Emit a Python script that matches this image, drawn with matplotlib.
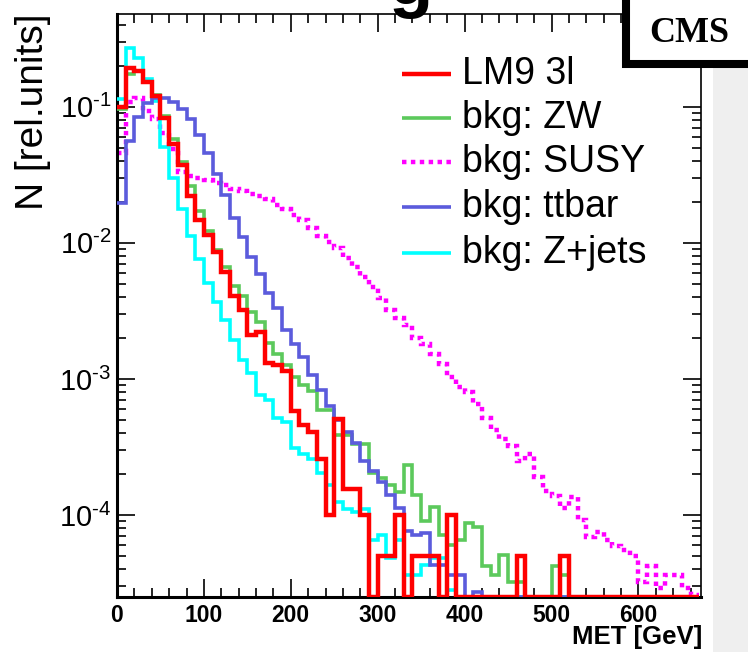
import numpy as np
import matplotlib
matplotlib.use("Agg")
import matplotlib.pyplot as plt
from matplotlib.patches import Rectangle
from matplotlib.lines import Line2D
from matplotlib.ticker import MultipleLocator, LogLocator, NullFormatter, FixedLocator, FixedFormatter

plt.rcParams["font.family"] = ["Liberation Sans", "DejaVu Sans"]
plt.rcParams["mathtext.fontset"] = "custom"
plt.rcParams["mathtext.rm"] = "Liberation Sans"
plt.rcParams["mathtext.it"] = "Liberation Sans:italic"
plt.rcParams["mathtext.bf"] = "Liberation Sans:bold"

# MET histograms, 10 GeV bins from 0 to 670 GeV (normalised)
met_edges = np.arange(0, 680, 10)

lm9_3l = [0.100, 0.194, 0.183, 0.153, 0.120, 0.082, 0.053, 0.0376, 0.022, 0.0148,
          0.0115, 0.0086, 0.0061, 0.0041, 0.0032, 0.0021, 0.0022, 0.00132, 0.00127, 0.00114,
          0.00058, 0.00046, 0.00041, 0.00026, 0.000100, 0.00051, 0.000155, 0.000155, 0.000100, 0,
          5.0e-5, 5.0e-5, 1.0e-4, 0, 5e-5, 5e-5, 5e-5, 0, 1e-4, 0,
          0, 0, 0, 0, 0, 0, 5e-5, 0, 0, 0,
          0, 5e-5, 0, 0, 0, 0, 0, 0, 0, 0,
          0, 0, 0, 0, 0, 0, 0]

bkg_zw = [0.0967, 0.173, 0.183, 0.152, 0.121, 0.085, 0.058, 0.039, 0.026, 0.0172,
          0.0122, 0.0089, 0.0066, 0.0048, 0.0041, 0.0031, 0.0026, 0.00185, 0.00153, 0.00126,
          0.00103, 0.00091, 0.00081, 0.00059, 0.00059, 0.00039, 0.00039, 0.00033, 0.00033, 0.000204,
          0.000187, 0.000166, 0.000148, 0.000234, 0.00014, 9.1e-5, 0.000114, 7.1e-5, 6.0e-5, 6.6e-5,
          8.7e-5, 8.2e-5, 4.2e-5, 3.6e-5, 5.1e-5, 3.2e-5, 3.2e-5, 0, 0, 0,
          4.2e-5, 3.6e-5, 0, 0, 0, 0, 0, 0, 0, 0,
          0, 0, 0, 0, 0, 0, 0]

bkg_susy = [0.046, 0.108, 0.116, 0.093, 0.081, 0.064, 0.049, 0.0334, 0.031, 0.030,
            0.029, 0.0277, 0.0264, 0.025, 0.024, 0.023, 0.022, 0.0211, 0.019, 0.0176,
            0.0159, 0.0146, 0.0128, 0.0112, 0.0101, 0.0091, 0.0078, 0.0066, 0.0056, 0.0047,
            0.0039, 0.0032, 0.0028, 0.0025, 0.0020, 0.0018, 0.00153, 0.00128, 0.00103, 0.00087,
            0.0008, 0.00065, 0.00052, 0.00042, 0.00036, 0.00032, 0.00025, 0.00028, 0.00019, 0.00015,
            0.000137, 0.000113, 0.000135, 9.2e-5, 6.9e-5, 7.5e-5, 6.6e-5, 5.9e-5, 5.5e-5, 5.0e-5,
            3.2e-5, 4.2e-5, 2.9e-5, 3.6e-5, 3.6e-5, 2.9e-5, 2.6e-5]

bkg_ttbar = [0.0197, 0.0558, 0.0844, 0.106, 0.116, 0.115, 0.108, 0.0955, 0.081, 0.0615,
             0.046, 0.032, 0.0224, 0.0152, 0.011, 0.0079, 0.0059, 0.0043, 0.0033, 0.0023,
             0.0018, 0.00146, 0.00107, 0.00083, 0.00063, 0.0005, 0.00041, 0.00034, 0.00025, 0.00021,
             0.000176, 0.00014, 0.000113, 7.7e-5, 7.1e-5, 7.4e-5, 4.3e-5, 4.3e-5, 3.6e-5, 3.6e-5,
             0, 2.7e-5, 0, 0, 0, 0, 0, 0, 0, 0,
             0, 0, 0, 0, 0, 0, 0, 0, 0, 0,
             0, 0, 0, 0, 0, 0, 0]

bkg_zjets = [0.113, 0.272, 0.229, 0.159, 0.110, 0.051, 0.030, 0.0178, 0.0113, 0.0076,
             0.0051, 0.0037, 0.0027, 0.00194, 0.00138, 0.0011, 0.00076, 0.0007, 0.00052, 0.00048,
             0.00031, 0.00028, 0.00026, 0.000205, 0.000167, 0.000125, 0.00011, 0.000105, 0.00011, 6.6e-5,
             7.1e-5, 4.8e-5, 6.6e-5, 3.6e-5, 3.6e-5, 4.3e-5, 4.8e-5, 4.8e-5, 2.8e-5, 0,
             0, 0, 0, 0, 0, 0, 0, 0, 0, 0,
             0, 0, 0, 0, 0, 0, 0, 0, 0, 0,
             0, 0, 0, 0, 0, 0, 0]

labels = ["LM9 3l", "bkg: ZW", "bkg: SUSY", "bkg: ttbar", "bkg: Z+jets"]
x_ticks = [0, 100, 200, 300, 400, 500, 600]
y_ticks = [1e-4, 1e-3, 1e-2, 1e-1]
y_ticklabels = [r"$\mathregular{10^{\text{-}4}}$", r"$\mathregular{10^{\text{-}3}}$",
                r"$\mathregular{10^{\text{-}2}}$", r"$\mathregular{10^{\text{-}1}}$"]

XMAX = 672
YMIN, YMAX = 2.5e-5, 0.48

W, H = 748, 652
fig = plt.figure(figsize=(W / 100, H / 100), dpi=100)
fig.patch.set_facecolor("white")


def fx(x):
    return x / W


def fy(y):
    return 1 - y / H


# light grey canvas strip on the right
fig.add_artist(Rectangle((fx(713), 0), fx(W) - fx(713) + 0.01, 1.01,
                         transform=fig.transFigure, facecolor="#efefef",
                         edgecolor="none", zorder=0))

# large page title running off the top edge
fig.text(fx(411), fy(4), "g", ha="center", va="baseline", fontsize=52,
         fontweight="bold")

ax = fig.add_axes([fx(117), fy(597), (701 - 117) / W, (597 - 14) / H])
ax.set_yscale("log")
ax.set_xlim(0, XMAX)
ax.set_ylim(YMIN, YMAX)

DOT = (0, (1.0, 1.0))
series = [
    (bkg_susy, "#ff00ff", 3.2, DOT, 2),
    (bkg_zjets, "#00ffff", 2.6, "-", 3),
    (bkg_zw, "#5cc95c", 2.6, "-", 4),
    (bkg_ttbar, "#5b5bdc", 2.6, "-", 5),
    (lm9_3l, "#ff0000", 3.2, "-", 6),
]
for vals, col, lw, ls, z in series:
    v = np.clip(np.asarray(vals, dtype=float), YMIN, None)
    st = ax.stairs(v, met_edges, baseline=None, color=col, lw=lw, linestyle=ls, zorder=z)
    st.set_capstyle("butt")

# axes styling
ax.xaxis.set_major_locator(FixedLocator(x_ticks))
ax.xaxis.set_minor_locator(MultipleLocator(20))
ax.set_xticklabels([str(t) for t in x_ticks], fontsize=16.5, fontweight="bold")
ax.yaxis.set_major_locator(FixedLocator(y_ticks))
ax.yaxis.set_major_formatter(FixedFormatter(y_ticklabels))
ax.yaxis.set_minor_locator(LogLocator(base=10, subs=np.arange(2, 10), numticks=20))
ax.yaxis.set_minor_formatter(NullFormatter())
ax.tick_params(which="both", direction="in", top=True, right=True, color="black")
ax.tick_params(which="major", length=13, width=1.2)
ax.tick_params(which="minor", length=6.5, width=1.2)
ax.tick_params(axis="x", which="major", pad=5)
ax.tick_params(axis="y", which="major", labelsize=21, pad=4)
for side in ("left", "bottom"):
    ax.spines[side].set_linewidth(2.2)
for side in ("top", "right"):
    ax.spines[side].set_linewidth(1.2)

fig.text(fx(33), fy(13), "N [rel.units]", rotation=90, ha="center", va="top", fontsize=28)
fig.text(fx(702), fy(637), "MET [GeV]", ha="right", va="center", fontsize=18.5, fontweight="bold")

# legend
colors = ["#ff0000", "#5cc95c", "#ff00ff", "#5b5bdc", "#00ffff"]
styles = ["-", "-", DOT, "-", "-"]
widths = [3.2, 2.6, 3.2, 2.6, 2.6]
rows = [74, 118, 162, 207, 253]
for lab, col, ls, lw, yy in zip(labels, colors, styles, widths, rows):
    fig.add_artist(Line2D([fx(402), fx(451)], [fy(yy), fy(yy)], transform=fig.transFigure,
                          color=col, lw=lw, linestyle=ls, solid_capstyle="butt",
                          dash_capstyle="butt"))
    fig.text(fx(462), fy(yy), lab, ha="left", va="center", fontsize=27)

# CMS label box
fig.add_artist(Rectangle((fx(626), fy(64)), 0.3, 0.3, transform=fig.transFigure,
                         facecolor="white", edgecolor="black", lw=5.8, zorder=10,
                         clip_on=False))
fig.text(fx(689), fy(33), "CMS", ha="center", va="center", fontsize=26,
         fontweight="bold", family="Liberation Serif", zorder=11)

fig.savefig("out.png", dpi=100)
